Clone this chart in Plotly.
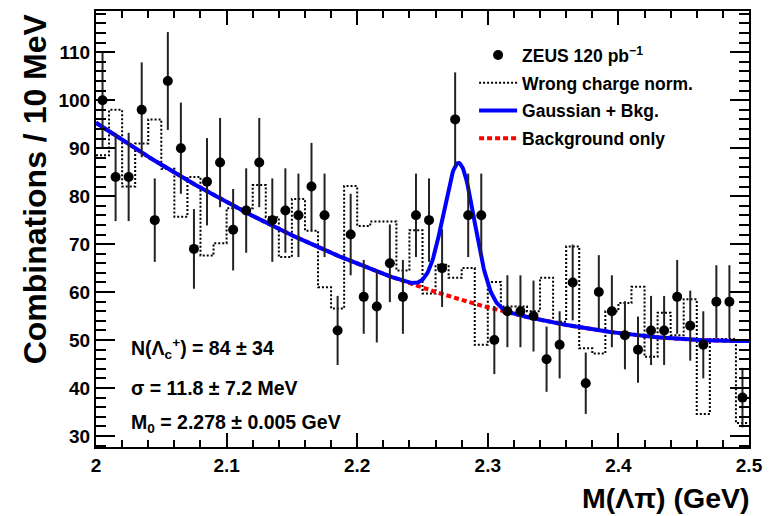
import numpy as np
import plotly.graph_objects as go

# ---------------- data ----------------
bin_lo = 2.0
bin_width = 0.01

counts = [100, 84, 84, 98, 75, 104, 90, 69, 83, 87,
          73, 77, 87, 75, 77, 76, 82, 76, 52, 72,
          59, 57, 66, 59, 76, 75, 65, 96, 76, 76,
          50, 56, 56, 55, 46, 49, 62, 41, 60, 56,
          51, 48, 52, 52, 59, 53, 49, 58, 58, 38]

count_err = [10.0, 9.2, 9.2, 9.9, 8.7, 10.2, 9.5, 8.3, 9.1, 9.3,
             8.5, 8.8, 9.3, 8.7, 8.8, 8.7, 9.1, 8.7, 7.2, 8.5,
             7.7, 7.5, 8.1, 7.7, 8.7, 8.7, 8.1, 9.8, 8.7, 8.7,
             7.1, 7.5, 7.5, 7.4, 6.8, 7.0, 7.9, 6.4, 7.7, 7.5,
             7.1, 6.9, 7.2, 7.2, 7.7, 7.3, 7.0, 7.6, 7.6, 6.2]

wrong_charge = [88.5, 98.0, 82.0, 91.0, 96.0, 85.7, 75.7, 84.0, 67.6, 70.2,
                77.5, 77.5, 82.3, 75.6, 67.3, 79.4, 72.8, 61.0, 56.6, 82.1,
                73.8, 74.7, 74.7, 64.5, 72.9, 59.7, 65.7, 63.0, 65.0, 49.0,
                62.1, 57.0, 57.0, 56.0, 63.0, 53.8, 69.5, 48.3, 47.2, 56.0,
                57.7, 61.1, 46.5, 55.7, 51.0, 58.5, 34.6, 50.2, 50.2, 32.7]

# fit: quadratic background + Gaussian signal (parameters as printed on the chart)
bkg_p0, bkg_p1, bkg_p2 = 95.3, -184.2, 186.4
sig_n, sig_sigma, sig_m0 = 84.0, 0.0118, 2.278

x_range = [2.0, 2.5]
y_range = [27.7, 118.6]

# ---------------- derived ----------------
n_bins = len(counts)
centers = [bin_lo + bin_width * (i + 0.5) for i in range(n_bins)]
edges = [bin_lo + bin_width * i for i in range(n_bins + 1)]
wc_steps = wrong_charge + [wrong_charge[-1]]

xf = np.linspace(x_range[0], x_range[1], 801)
t = xf - bin_lo
bkg = bkg_p0 + bkg_p1 * t + bkg_p2 * t ** 2
gaus = sig_n * bin_width / (sig_sigma * np.sqrt(2 * np.pi)) * np.exp(-0.5 * ((xf - sig_m0) / sig_sigma) ** 2)
total = bkg + gaus

FONT = "Liberation Sans, Arial, Helvetica, sans-serif"

fig = go.Figure()

fig.add_trace(go.Scatter(
    x=edges, y=wc_steps, mode="lines", line_shape="hv",
    line=dict(color="black", width=2, dash="2px,2px"),
    name="Wrong charge norm.", legendrank=2, legendgroup="b"))

fig.add_trace(go.Scatter(
    x=xf, y=bkg, mode="lines",
    line=dict(color="#ff0000", width=4, dash="5px,3px"),
    name="Background only", legendrank=4, legendgroup="d"))

fig.add_trace(go.Scatter(
    x=xf, y=total, mode="lines",
    line=dict(color="#0000ff", width=4),
    name="Gaussian + Bkg.", legendrank=3, legendgroup="c"))

fig.add_trace(go.Scatter(
    x=centers, y=counts, mode="markers",
    marker=dict(color="black", size=10),
    error_y=dict(type="data", array=count_err, visible=True, color="#222222", thickness=2, width=0),
    name="ZEUS 120 pb<sup>−1</sup>", legendrank=1, legendgroup="a"))

axis_common = dict(
    showline=True, linewidth=2, linecolor="black", mirror="allticks",
    ticks="inside", tickwidth=1.5, tickcolor="black",
    showgrid=False, zeroline=False,
    tickfont=dict(family=FONT, size=19, color="black", weight="bold"),
)

fig.update_xaxes(range=x_range, tick0=2.0, dtick=0.1, ticklen=14,
                 minor=dict(dtick=0.02, ticklen=7, ticks="inside", tickwidth=1.5, tickcolor="black"),
                 **axis_common)
fig.update_yaxes(range=y_range, tick0=0, dtick=10, ticklen=19,
                 minor=dict(dtick=2, ticklen=10, ticks="inside", tickwidth=1.5, tickcolor="black"),
                 **axis_common)

legend_font = dict(family=FONT, size=17.5, color="black", weight="bold")
annot_font = dict(family=FONT, size=19.5, color="black", weight="bold")
fig.update_layout(
    width=775, height=516,
    margin=dict(l=96, r=26, t=9, b=69),
    paper_bgcolor="white", plot_bgcolor="white",
    font=dict(family=FONT, color="black"),
    showlegend=True,
    legend=dict(x=0.579, y=0.94, xanchor="left", yanchor="top",
                bgcolor="rgba(0,0,0,0)", borderwidth=0,
                font=legend_font, tracegroupgap=2, itemwidth=38),
    annotations=[
        dict(text="N(Λ<sub>c</sub><sup>+</sup>) = 84 ± 34", x=2.025, y=48.2, xref="x", yref="y",
             xanchor="left", yanchor="middle", showarrow=False, font=annot_font),
        dict(text="σ = 11.8 ± 7.2 MeV", x=2.025, y=40.0, xref="x", yref="y",
             xanchor="left", yanchor="middle", showarrow=False, font=annot_font),
        dict(text="M<sub>0</sub> = 2.278 ± 0.005 GeV", x=2.025, y=32.6, xref="x", yref="y",
             xanchor="left", yanchor="middle", showarrow=False, font=annot_font),
        dict(text="M(Λπ) (GeV)", x=1.003, y=-0.075, xref="paper", yref="paper",
             xanchor="right", yanchor="top", showarrow=False,
             font=dict(family=FONT, size=28.5, color="black", weight="bold")),
        dict(text="Combinations / 10 MeV", x=-0.063, y=1.0, xref="paper", yref="paper",
             xanchor="right", yanchor="top", textangle=-90, showarrow=False,
             font=dict(family=FONT, size=32, color="black", weight="bold")),
    ],
)

fig.write_html("out.html")
